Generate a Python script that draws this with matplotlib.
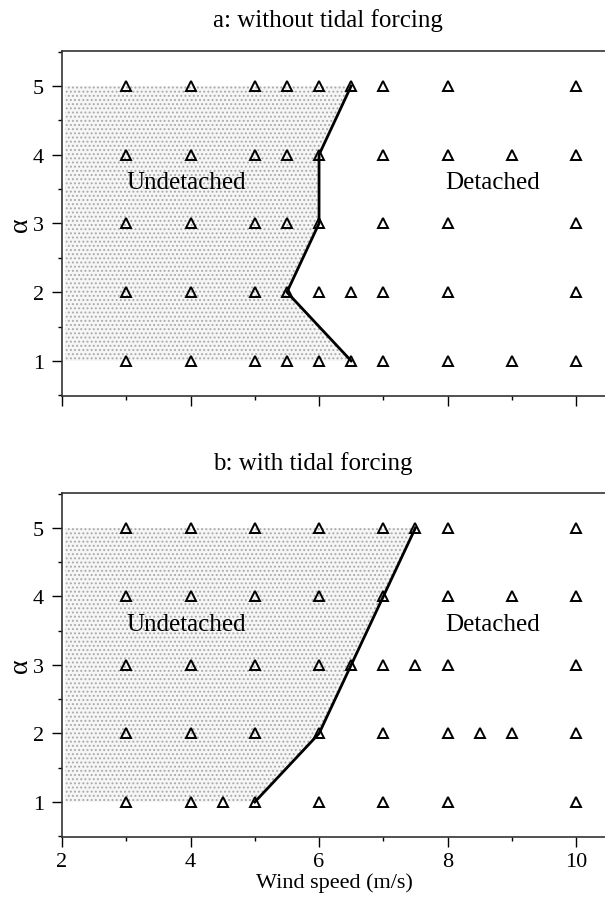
import matplotlib as mpl
import matplotlib.pyplot as plt
import numpy as np
from matplotlib.ticker import MultipleLocator

mpl.use('Agg')
mpl.rc("font", family="Liberation Serif", size=15)
mpl.rcParams['hatch.linewidth'] = 0.9

# (a) without tidal forcing: model runs at each alpha
a_alpha = [5, 4, 3, 2, 1]
a_wind = [
    [3, 4, 5, 5.5, 6, 6.5, 7, 8, 10],
    [3, 4, 5, 5.5, 6, 7, 8, 9, 10],
    [3, 4, 5, 5.5, 6, 7, 8, 10],
    [3, 4, 5, 5.5, 6, 6.5, 7, 8, 10],
    [3, 4, 5, 5.5, 6, 6.5, 7, 8, 9, 10],
]
a_line_x = [6.5, 6, 6, 5.5, 6.5]
a_line_y = [5, 4, 3, 2, 1]

# (b) with tidal forcing
b_alpha = [5, 4, 3, 2, 1]
b_wind = [
    [3, 4, 5, 6, 7, 7.5, 8, 10],
    [3, 4, 5, 6, 7, 8, 9, 10],
    [3, 4, 5, 6, 6.5, 7, 7.5, 8, 10],
    [3, 4, 5, 6, 7, 8, 8.5, 9, 10],
    [3, 4, 4.5, 5, 6, 7, 8, 10],
]
b_line_x = [7.5, 7, 6.5, 6, 5]
b_line_y = [5, 4, 3, 2, 1]

titles = ["a: without tidal forcing", "b: with tidal forcing"]

fig = plt.figure(figsize=(6.05, 9.03), dpi=100)
ax_a = fig.add_axes([0.1025, 0.5604, 0.8975, 0.3821])
ax_b = fig.add_axes([0.1025, 0.0720, 0.8975, 0.3810])

panels = [
    (ax_a, a_alpha, a_wind, a_line_x, a_line_y),
    (ax_b, b_alpha, b_wind, b_line_x, b_line_y),
]

for i, (ax, alphas, winds, lx, ly) in enumerate(panels):
    # stippled "undetached" region left of the boundary
    ax.fill_betweenx(ly, 2.05, lx, facecolor='#f6f6f6', edgecolor='#aaaaaa',
                     hatch='....', linewidth=0, zorder=1)
    for al, ws in zip(alphas, winds):
        ax.plot(ws, [al] * len(ws), linestyle='none', marker='^', ms=7.5,
                mfc='none', mec='black', mew=1.4, zorder=3)
    ax.plot(lx, ly, color='black', lw=2.0, zorder=4)

    ax.text(3.93, 3.6, "Undetached", fontsize=18, ha='center', va='center', zorder=5)
    ax.text(8.7, 3.6, "Detached", fontsize=18, ha='center', va='center', zorder=5)

    ax.set_xlim(2, 10.45)
    ax.set_ylim(0.49, 5.51)
    ax.xaxis.set_major_locator(MultipleLocator(2))
    ax.xaxis.set_minor_locator(MultipleLocator(1))
    ax.yaxis.set_major_locator(MultipleLocator(1))
    ax.yaxis.set_minor_locator(MultipleLocator(0.5))
    ax.tick_params(which='major', direction='out', length=7, width=1.0, labelsize=16)
    ax.tick_params(which='minor', direction='out', length=3, width=1.0)
    ax.tick_params(axis='y', which='major', pad=6)
    ax.tick_params(axis='x', which='major', pad=4)
    ax.spines['right'].set_visible(False)
    for s in ['left', 'top', 'bottom']:
        ax.spines[s].set_linewidth(1.2)
        ax.spines[s].set_color('#333333')

    if i == 0:
        ax.tick_params(axis='x', labelbottom=False)

fig.text(213 / 605, 1 - 21 / 903, titles[0], fontsize=18, ha='left', va='center')
fig.text(213 / 605, 1 - 464 / 903, titles[1], fontsize=18, ha='left', va='center')
fig.text(20 / 605, 1 - 225 / 903, "α", fontsize=20, rotation=90, ha='center', va='center')
fig.text(20 / 605, 1 - 666 / 903, "α", fontsize=20, rotation=90, ha='center', va='center')
fig.text(334 / 605, 1 - 883 / 903, "Wind speed (m/s)", fontsize=16, ha='center', va='center')

fig.savefig("out.png", dpi=100)
